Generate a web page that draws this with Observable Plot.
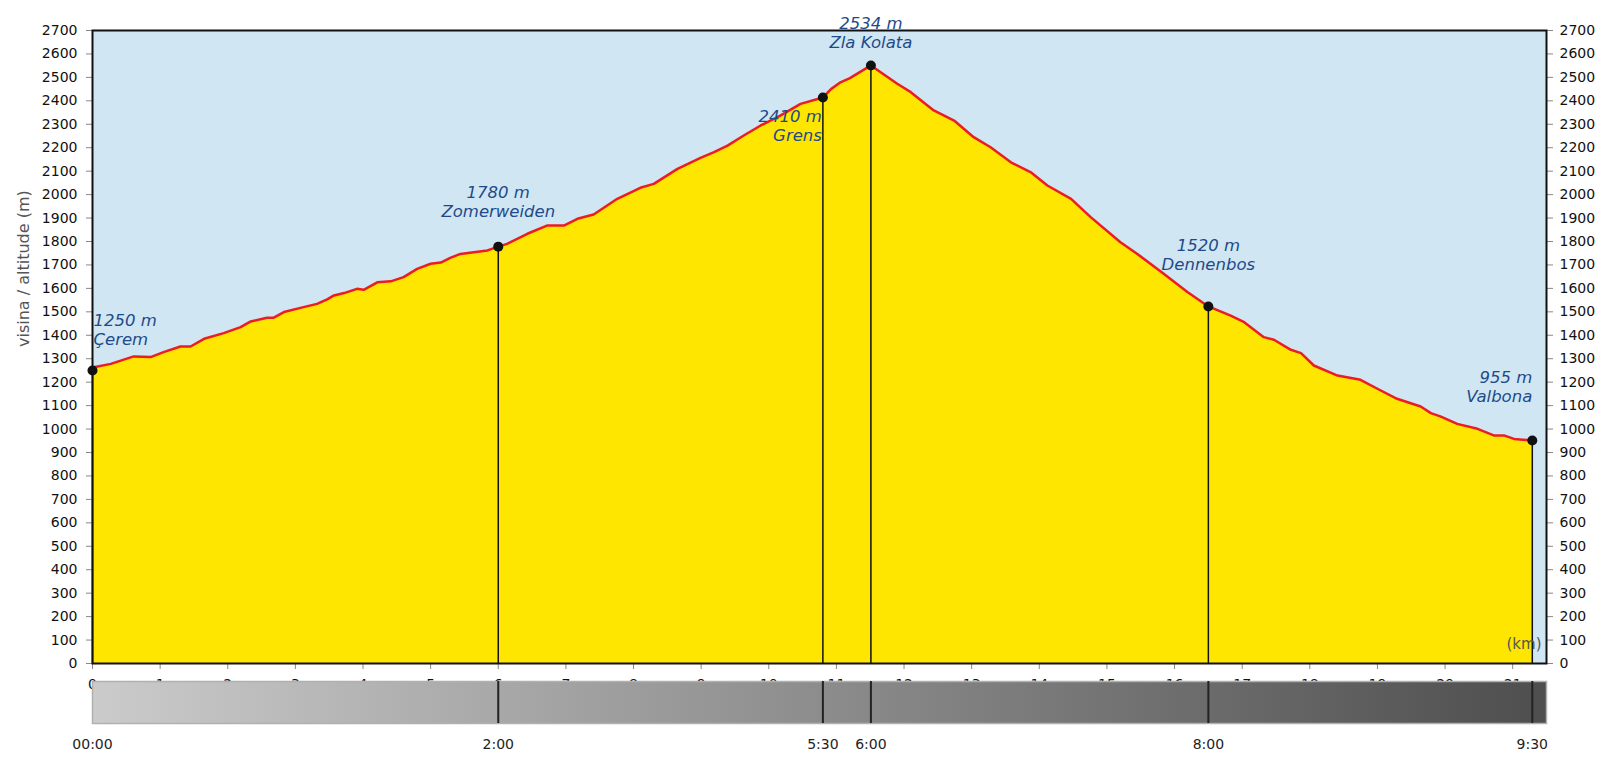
<!DOCTYPE html>
<html><head><meta charset="utf-8">
<script src="https://cdn.jsdelivr.net/npm/d3@7"></script>
<script src="https://cdn.jsdelivr.net/npm/@observablehq/plot@0.6"></script>
<style>
html,body{margin:0;padding:0;background:#fff;}
#wrap{position:relative;width:1611px;height:771px;font-family:"DejaVu Sans",sans-serif;}
#wrap svg{position:absolute;left:0;top:0;}
</style></head><body><div id="wrap"></div>
<script>
// ---- data ----
const profileKm = [0, 0.02, 0.27, 0.61, 0.86, 1.05, 1.30, 1.45, 1.65, 1.94, 2.19, 2.34, 2.58, 2.68, 2.83, 3.12, 3.32, 3.47, 3.57, 3.72, 3.91, 4.01, 4.21, 4.41, 4.60, 4.80, 5.00, 5.15, 5.29, 5.44, 5.58, 5.84, 6.0, 6.13, 6.43, 6.72, 6.97, 7.17, 7.41, 7.76, 8.10, 8.30, 8.65, 8.99, 9.19, 9.39, 9.63, 9.88, 10.17, 10.47, 10.8, 10.92, 11.06, 11.2, 11.51, 11.90, 12.10, 12.44, 12.74, 13.03, 13.28, 13.58, 13.87, 14.12, 14.47, 14.76, 15.20, 15.45, 15.84, 16.19, 16.5, 16.83, 17.03, 17.32, 17.47, 17.72, 17.87, 18.06, 18.41, 18.75, 19.00, 19.29, 19.64, 19.79, 19.93, 20.18, 20.48, 20.72, 20.87, 21.02, 21.29];
const profileElev = [1250, 1264, 1278, 1310, 1307, 1328, 1352, 1352, 1385, 1409, 1435, 1459, 1475, 1475, 1499, 1520, 1534, 1553, 1570, 1580, 1598, 1594, 1626, 1630, 1648, 1683, 1705, 1710, 1730, 1747, 1752, 1762, 1778, 1790, 1833, 1868, 1868, 1897, 1915, 1982, 2029, 2046, 2110, 2157, 2181, 2209, 2252, 2295, 2337, 2387, 2414, 2450, 2479, 2497, 2551, 2473, 2437, 2359, 2316, 2245, 2202, 2138, 2096, 2039, 1982, 1904, 1797, 1747, 1662, 1585, 1523, 1484, 1456, 1392, 1381, 1338, 1324, 1271, 1228, 1210, 1172, 1129, 1096, 1068, 1054, 1022, 1001, 973, 973, 958, 951];

const waypointNames = ["Çerem", "Zomerweiden", "Grens", "Zla Kolata", "Dennenbos", "Valbona"];
const waypointKm = [0, 6.0, 10.8, 11.51, 16.5, 21.29];
const waypointElev = [1250, 1778, 2414, 2551, 1523, 951];
const waypointLabelElev = [1250, 1780, 2410, 2534, 1520, 955];

const timeLabels = ["00:00", "2:00", "5:30", "6:00", "8:00", "9:30"];
const timeKm = [0, 6.0, 10.8, 11.51, 16.5, 21.29];

const yTicks = [0, 100, 200, 300, 400, 500, 600, 700, 800, 900, 1000, 1100, 1200, 1300, 1400, 1500, 1600, 1700, 1800, 1900, 2000, 2100, 2200, 2300, 2400, 2500, 2600, 2700];
const xTicks = [0, 1, 2, 3, 4, 5, 6, 7, 8, 9, 10, 11, 12, 13, 14, 15, 16, 17, 18, 19, 20, 21];

const yLabel = "visina / altitude (m)";
const xLabel = "(km)";

// ---- tables ----
const profile = profileKm.map((km, i) => ({km, elev: profileElev[i]}));
const waypoints = waypointNames.map((name, i) => ({
  name, km: waypointKm[i], elev: waypointElev[i], label: `${waypointLabelElev[i]} m\n${name}`
}));
const timePoints = timeLabels.map((label, i) => ({label, km: timeKm[i]}));

// annotation layout (styling)
const labelLayout = {
  "Çerem": {textAnchor: "start", dx: 1, dy: -41},
  "Zomerweiden": {textAnchor: "middle", dx: 0, dy: -45},
  "Grens": {textAnchor: "end", dx: -1, dy: 28},
  "Zla Kolata": {textAnchor: "middle", dx: 0, dy: -33},
  "Dennenbos": {textAnchor: "middle", dx: 0, dy: -52},
  "Valbona": {textAnchor: "end", dx: 0, dy: -54}
};

const font = '"DejaVu Sans", sans-serif';
const W = 1611, H = 771, ML = 92, MR = 65;
const xDomain = [0, 21.5];
const plain = d => String(d);

const main = Plot.plot({
  width: W, height: H,
  marginLeft: ML, marginRight: MR, marginTop: 30, marginBottom: 108,
  style: {fontFamily: font, fontSize: "14px", background: "transparent", overflow: "visible"},
  x: {domain: xDomain},
  y: {domain: [0, 2700]},
  marks: [
    Plot.frame({fill: "#d0e6f3"}),
    Plot.areaY(profile, {x: "km", y: "elev", fill: "#ffe600"}),
    Plot.lineY(profile, {x: "km", y: "elev", stroke: "#ec1c24", strokeWidth: 2.5}),
    Plot.ruleX(waypoints, {x: "km", y1: 0, y2: "elev", stroke: "#111", strokeWidth: 1.5}),
    Plot.dot(waypoints, {x: "km", y: "elev", r: 5, fill: "#111"}),
    ...waypoints.map(w => Plot.text([w], {
      x: "km", y: "elev", text: "label",
      textAnchor: labelLayout[w.name].textAnchor,
      dx: labelLayout[w.name].dx, dy: labelLayout[w.name].dy,
      lineAnchor: "middle", lineHeight: 1.15,
      fontSize: 16.5, fontStyle: "italic", fill: "#1f4a8a"
    })),
    Plot.axisX({anchor: "bottom", ticks: xTicks, tickFormat: plain, tickSize: 6, tickPadding: 10, stroke: "#888", fill: "#111", fontSize: 14, label: null}),
    Plot.axisY({anchor: "left", ticks: yTicks, tickFormat: plain, tickSize: 6, tickPadding: 9, stroke: "#888", fill: "#111", fontSize: 14, label: null}),
    Plot.axisY({anchor: "right", ticks: yTicks, tickFormat: plain, tickSize: 6, tickPadding: 7, stroke: "#888", fill: "#111", fontSize: 14, label: null}),
    Plot.text([yLabel], {frameAnchor: "left", dx: -69, rotate: -90, fill: "#555", fontSize: 16}),
    Plot.text([xLabel], {frameAnchor: "bottom-right", dx: -5, dy: -15, textAnchor: "end", fill: "#555", fontSize: 15}),
    Plot.frame({stroke: "#111", strokeWidth: 2})
  ]
});

const bar = Plot.plot({
  width: W, height: H,
  marginLeft: ML, marginRight: MR, marginTop: 681, marginBottom: 48,
  style: {fontFamily: font, fontSize: "14px", background: "transparent", overflow: "visible"},
  x: {domain: xDomain, axis: null},
  y: {domain: [0, 1], axis: null},
  marks: [
    () => {
      const defs = d3.create("svg:defs");
      const g = defs.append("linearGradient").attr("id", "timegrad")
        .attr("x1", 0).attr("x2", 1).attr("y1", 0).attr("y2", 0);
      g.append("stop").attr("offset", "0%").attr("stop-color", "#cbcbcb");
      g.append("stop").attr("offset", "100%").attr("stop-color", "#4e4e4e");
      return defs.node();
    },
    Plot.frame({fill: "url(#timegrad)", stroke: "#b0b0b0", strokeWidth: 1.5}),
    Plot.ruleX(timePoints.filter(d => d.km > 0), {x: "km", stroke: "#222", strokeWidth: 2}),
    Plot.text(timePoints, {x: "km", text: "label", frameAnchor: "bottom", dy: 25, fontSize: 14, fill: "#222"})
  ]
});

const wrap = document.getElementById("wrap");
wrap.appendChild(main);
wrap.appendChild(bar);
</script>
</body></html>
